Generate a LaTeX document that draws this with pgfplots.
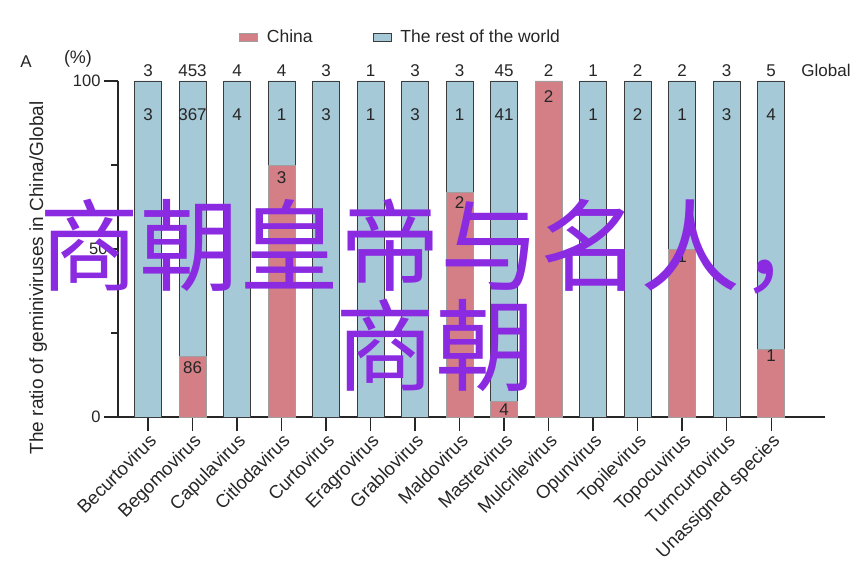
\documentclass[border=0pt]{standalone}
\usepackage{pgfplots}
\pgfplotsset{compat=1.18}
\usepackage{fontspec}
\setmainfont{Liberation Sans}
\newfontfamily\cjk{Noto Sans CJK SC}
\definecolor{cn}{HTML}{D47F86}
\definecolor{rw}{HTML}{A6C9D7}
\definecolor{ax}{HTML}{262626}
\definecolor{ov}{HTML}{8A2BE2}
\newcommand{\num}{\fontsize{17}{20}\selectfont}
\begin{document}
\begin{tikzpicture}[x=1pt,y=1pt]
\useasboundingbox (-118,-148) rectangle (748,417);
\begin{axis}[
  at={(0,0)}, anchor=south west, scale only axis,
  width=707pt, height=336pt,
  xmin=-0.674, xmax=15.21, ymin=0, ymax=100,
  ybar stacked, bar width=27pt,
  axis lines=left, axis line style={-, line width=1.3pt, ax},
  clip=false,
  xtick={0,...,14},
  xticklabels={Becurtovirus,Begomovirus,Capulavirus,Citlodavirus,Curtovirus,Eragrovirus,Grablovirus,Maldovirus,Mastrevirus,Mulcrilevirus,Opunvirus,Topilevirus,Topocuvirus,Turncurtovirus,Unassigned species},
  xticklabel style={rotate=45, anchor=north east, font=\fontsize{18.5}{22}\selectfont, text=ax, inner sep=1pt},
  ytick={0,100}, extra y ticks={50}, extra y tick style={major tick length=7pt},
  minor ytick={25,75}, minor tick length=7pt,
  major tick length=14pt, tick align=outside, tick style={line width=1.3pt, ax},
  yticklabel style={font=\fontsize{16.5}{20}\selectfont, text=ax},
  /pgf/number format/assume math mode=true,
  ylabel={The ratio of geminiviruses in China/Global},
  ylabel style={at={(axis description cs:-0.113,0.414)}, anchor=center, font=\fontsize{19}{22}\selectfont, text=ax},
  legend columns=2,
  legend style={at={(0.171,1.13)}, anchor=west, draw=none, fill=none, inner sep=0pt,
    font=\fontsize{17.5}{20}\selectfont, text=ax,
    /tikz/every odd column/.append style={column sep=7pt},
    /tikz/every even column/.append style={column sep=58pt}},
  legend image code/.code={\draw[#1] (0pt,-4pt) rectangle (18pt,4pt);},
]
\addplot[fill=cn, draw=gray!75, line width=0.8pt] coordinates {
 (0,0) (1,17.9) (2,0) (3,75) (4,0) (5,0) (6,0) (7,66.7) (8,4.5) (9,100) (10,0) (11,0) (12,50) (13,0) (14,20)};
\addplot[fill=rw, draw=ax!90, line width=0.8pt] coordinates {
 (0,100) (1,82.1) (2,100) (3,25) (4,100) (5,100) (6,100) (7,33.3) (8,95.5) (9,0) (10,100) (11,100) (12,50) (13,100) (14,80)};
\legend{China, The rest of the world}
\pgfplotsinvokeforeach{0,...,14}{
  \coordinate (g#1) at (axis cs:#1,100);
  \coordinate (w#1) at (axis cs:#1,90);
}
\coordinate (gl) at (axis cs:14.6,100);
\coordinate (c1) at (axis cs:1,14.6);
\coordinate (c3) at (axis cs:3,71.1);
\coordinate (c7) at (axis cs:7,63.7);
\coordinate (c8) at (axis cs:8,2.1);
\coordinate (c9) at (axis cs:9,95.5);
\coordinate (c12) at (axis cs:12,47.6);
\coordinate (c14) at (axis cs:14,18.2);
\end{axis}
% Global counts
\foreach \i/\v in {0/3,1/453,2/4,3/4,4/3,5/1,6/3,7/3,8/45,9/2,10/1,11/2,12/2,13/3,14/5}
  \node[font=\num, anchor=base, yshift=4pt, text=ax] at (g\i) {\v};
\node[font=\fontsize{17}{20}\selectfont, anchor=base west, yshift=4pt, text=ax] at (gl) {Global};
% rest of the world counts
\foreach \i/\v in {0/3,1/367,2/4,3/1,4/3,5/1,6/3,7/1,8/41,10/1,11/2,12/1,13/3,14/4}
  \node[font=\num, text=ax] at (w\i) {\v};
% China counts
\foreach \i/\v in {1/86,3/3,7/2,8/4,9/2,12/1,14/1}
  \node[font=\num, text=ax] at (c\i) {\v};
\node[font=\fontsize{17}{20}\selectfont, text=ax] at (-92,355) {A};
\node[font=\fontsize{18}{20}\selectfont, text=ax] at (-40,358) {(\%)};
\node[anchor=base, text=ov, font=\cjk\fontsize{100}{100}\selectfont, inner sep=0pt] at (322,134) {商朝皇帝与名人，};
\node[anchor=base, text=ov, font=\cjk\fontsize{100}{100}\selectfont, inner sep=0pt] at (317,34) {商朝};
\end{tikzpicture}
\end{document}
